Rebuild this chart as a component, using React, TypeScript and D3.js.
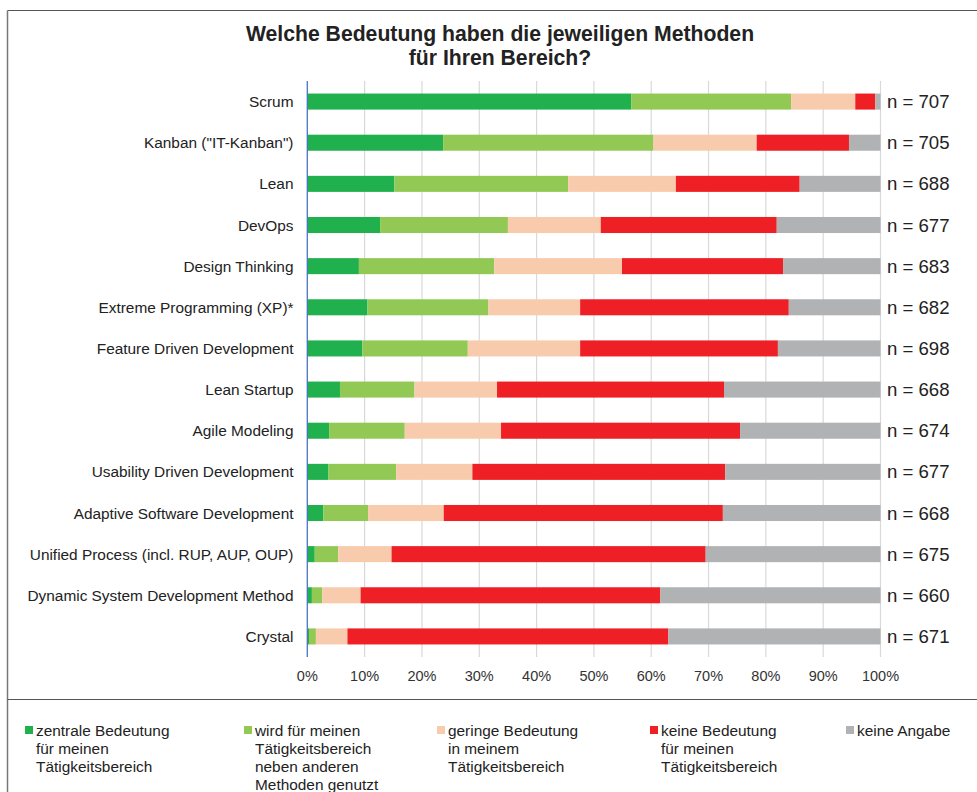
import React from "react";
import * as d3 from "d3";

const categories = [
  "Scrum",
  'Kanban ("IT-Kanban")',
  "Lean",
  "DevOps",
  "Design Thinking",
  "Extreme Programming (XP)*",
  "Feature Driven Development",
  "Lean Startup",
  "Agile Modeling",
  "Usability Driven Development",
  "Adaptive Software Development",
  "Unified Process (incl. RUP, AUP, OUP)",
  "Dynamic System Development Method",
  "Crystal",
];
const nValues = [707, 705, 688, 677, 683, 682, 698, 668, 674, 677, 668, 675, 660, 671];

const zentral = [56.5, 23.7, 15.2, 12.7, 9.0, 10.5, 9.6, 5.7, 3.8, 3.7, 2.8, 1.3, 0.8, 0.3];
const neben = [27.9, 36.7, 30.3, 22.3, 23.6, 21.1, 18.4, 13.0, 13.2, 11.8, 7.8, 4.1, 1.8, 1.2];
const gering = [11.2, 18.0, 18.8, 16.2, 22.3, 16.0, 19.6, 14.4, 16.8, 13.3, 13.2, 9.3, 6.7, 5.5];
const keine = [3.5, 16.1, 21.6, 30.7, 28.1, 36.4, 34.5, 39.6, 41.7, 44.1, 48.7, 54.8, 52.3, 56.0];
const keineAngabe = [0.9, 5.5, 14.1, 18.1, 17.0, 16.0, 17.9, 27.3, 24.5, 27.1, 27.5, 30.5, 38.4, 37.0];

const seriesKeys = ["zentral", "neben", "gering", "keine", "keineAngabe"];
const seriesColors = ["#21B04E", "#92C955", "#F8CBAD", "#EE2026", "#B1B2B4"];
const legendLabels = [
  ["zentrale Bedeutung", "für meinen", "Tätigkeitsbereich"],
  ["wird für meinen", "Tätigkeitsbereich", "neben anderen", "Methoden genutzt"],
  ["geringe Bedeutung", "in meinem", "Tätigkeitsbereich"],
  ["keine Bedeutung", "für meinen", "Tätigkeitsbereich"],
  ["keine Angabe"],
];
const xTicks = [0, 10, 20, 30, 40, 50, 60, 70, 80, 90, 100];
const titleLines = ["Welche Bedeutung haben die jeweiligen Methoden", "für Ihren Bereich?"];

export default function App() {
  const W = 977;
  const H = 792;
  const font = "Arial, 'Liberation Sans', Helvetica, sans-serif";
  const x = d3.scaleLinear().domain([0, 100]).range([307.3, 880.5]);
  const y = d3.scaleBand<string>().domain(categories).range([81, 657]).paddingInner(0.61).paddingOuter(0.305);

  const rows = categories.map((c, i) => ({
    cat: c,
    zentral: zentral[i],
    neben: neben[i],
    gering: gering[i],
    keine: keine[i],
    keineAngabe: keineAngabe[i],
  }));
  const normRows = rows.map((r: any) => {
    const tot = seriesKeys.reduce((s, k) => s + r[k], 0);
    const o: any = { cat: r.cat };
    seriesKeys.forEach((k) => (o[k] = (r[k] / tot) * 100));
    return o;
  });
  const stack = d3.stack<any>().keys(seriesKeys)(normRows);
  const legendX = [25, 244, 437, 650, 846];

  return (
    <svg width={W} height={H} style={{ position: "absolute", left: 0, top: 0 }} fontFamily={font}>
      <rect x={0} y={0} width={W} height={H} fill="#fff" />
      <line x1={7.5} y1={10.5} x2={W} y2={10.5} stroke="#555" strokeWidth={1.2} />
      <line x1={7.5} y1={10.5} x2={7.5} y2={H} stroke="#777" strokeWidth={1.5} />
      <line x1={7.5} y1={699.5} x2={W} y2={699.5} stroke="#555" strokeWidth={1.2} />
      {titleLines.map((t, i) => (
        <text key={i} x={500} y={41 + i * 24} textAnchor="middle" fontSize={21.2} fontWeight="bold" fill="#222">
          {t}
        </text>
      ))}
      {xTicks.map((t) => (
        <line key={t} x1={x(t)} x2={x(t)} y1={81} y2={657} stroke="#d9d9d9" strokeWidth={1.2} />
      ))}
      {stack.map((s, si) =>
        s.map((d: any, i: number) => (
          <rect
            key={si + "-" + i}
            x={x(d[0])}
            y={y(d.data.cat)}
            width={Math.max(0, x(d[1]) - x(d[0]))}
            height={y.bandwidth()}
            fill={seriesColors[si]}
          />
        ))
      )}
      <line x1={x(0)} x2={x(0)} y1={81} y2={657} stroke="#4472C4" strokeWidth={1.2} />
      {categories.map((c) => (
        <text key={c} x={293.5} y={(y(c) as number) + y.bandwidth() / 2 + 5.5} textAnchor="end" fontSize={15.4} fill="#222">
          {c}
        </text>
      ))}
      {categories.map((c, i) => (
        <text key={"n" + i} x={887} y={(y(c) as number) + y.bandwidth() / 2 + 6.5} fontSize={18.6} fill="#222">
          {"n = " + nValues[i]}
        </text>
      ))}
      {xTicks.map((t) => (
        <text key={"t" + t} x={x(t)} y={681} textAnchor="middle" fontSize={14.5} fill="#333">
          {t + "%"}
        </text>
      ))}
      {legendLabels.map((lines, i) => (
        <g key={"l" + i}>
          <rect x={legendX[i]} y={726} width={8} height={8} fill={seriesColors[i]} />
          {lines.map((ln, j) => (
            <text key={j} x={legendX[i] + 11} y={735.5 + j * 18} fontSize={15.4} fill="#222">
              {ln}
            </text>
          ))}
        </g>
      ))}
    </svg>
  );
}
